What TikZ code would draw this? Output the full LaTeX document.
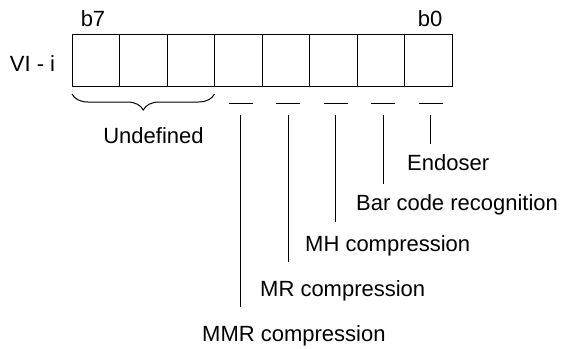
\documentclass[tikz,border=0pt]{standalone}
\usepackage{fontspec}
\setmainfont{Liberation Sans}
\usetikzlibrary{calc,decorations.pathreplacing}
\tikzset{cell/.style={draw,rectangle,minimum width=47.5pt,minimum height=52pt,outer sep=0pt,line width=1pt},lbl/.style={font=\fontsize{22}{26}\selectfont,inner sep=0pt},ln/.style={line width=1pt}}

\begin{document}
\begin{tikzpicture}[x=1pt,y=-1pt]
\useasboundingbox(0,0)rectangle(561,348);
\foreach\k in{7,...,0}{\node[cell](b\k)at({72+47.5*(7.5-\k)},60){};}
\node[lbl,anchor=base](vi)at(32.5,71){VI - i};
\node[lbl,anchor=base](h7)at(93,26){b7};\node[lbl,anchor=base](h0)at(430,26){b0};
\draw[ln,decorate,decoration={brace,mirror,amplitude=16pt}]([yshift=-8pt]b7.south west)--([yshift=-8pt]b5.south east);
\node[lbl,anchor=base](und)at(153.5,143){Undefined};
\foreach\k/\x/\y/\t in{0/407/170/Endoser,1/356/210/Bar code recognition,2/305/251/MH compression,3/260/296/MR compression,4/202/341/MMR compression}{\node[lbl,anchor=base west](l\k)at(\x,\y){\t};}
\foreach\k/\s in{0/10,1/10,2/13,3/18,4/18}{\coordinate(d\k)at($(b\k.south)+(2.5,17)$);\coordinate(t\k)at($(b\k.south)+(2.5,29)$);
\draw[ln]([xshift=-12pt]d\k)--([xshift=12pt]d\k);\draw[ln,shorten >=\s pt](t\k)--(t\k|-l\k.north);}
\end{tikzpicture}
\end{document}
